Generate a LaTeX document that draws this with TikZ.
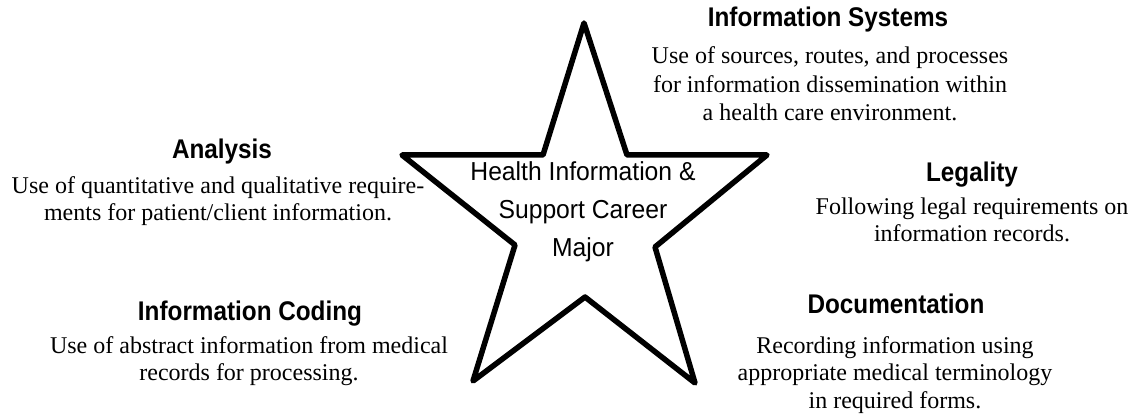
\documentclass[tikz,border=0pt]{standalone}
\usepackage{fontspec}
\setmainfont{Liberation Serif}
\newfontfamily\headfont[FakeStretch=0.9]{Liberation Sans}
\newfontfamily\starfont[FakeStretch=0.95]{Liberation Sans}

\tikzset{
  head/.style={font=\headfont\bfseries\fontsize{27}{30}\selectfont, inner sep=0pt},
  body/.style={align=center, font=\fontsize{24}{27.5}\selectfont, inner sep=0pt},
  startext/.style={align=center, font=\starfont\fontsize{26}{38}\selectfont, inner sep=0pt}
}

\begin{document}
\begin{tikzpicture}[x=1pt, y=-1pt]
        \useasboundingbox (0,0) rectangle (1135,414);
        % the star
        \draw[line width=5.5pt, line join=round] (584,23) -- (627,155) -- (767,155) -- (655,247)
              -- (695,383) -- (585,297) -- (473,381) -- (515,245) -- (402,155) -- (543,155) -- cycle;
        \node[startext] (major) at (583,212) {Health Information \&\\Support Career\\Major};
        % the five areas
        \node[head] (syshead) at (828,20) {Information Systems};
        \node[body, font=\fontsize{24}{28.5}\selectfont] (sysbody) at (830,84) {Use of sources, routes, and processes\\for information dissemination within\\a health care environment.};
        \node[head] (anahead) at (222,152) {Analysis};
        \node[body] (anabody) at (218,201) {Use of quantitative and qualitative require-\\ments for patient/client information.};
        \node[head] (leghead) at (972,175) {Legality};
        \node[body] (legbody) at (972,220) {Following legal requirements on\\information records.};
        \node[head] (codhead) at (250,314) {Information Coding};
        \node[body] (codbody) at (249,361) {Use of abstract information from medical\\records for processing.};
        \node[head] (dochead) at (896,304) {Documentation};
        \node[body] (docbody) at (895,375) {Recording information using\\appropriate medical terminology\\in required forms.};
\end{tikzpicture}
\end{document}
